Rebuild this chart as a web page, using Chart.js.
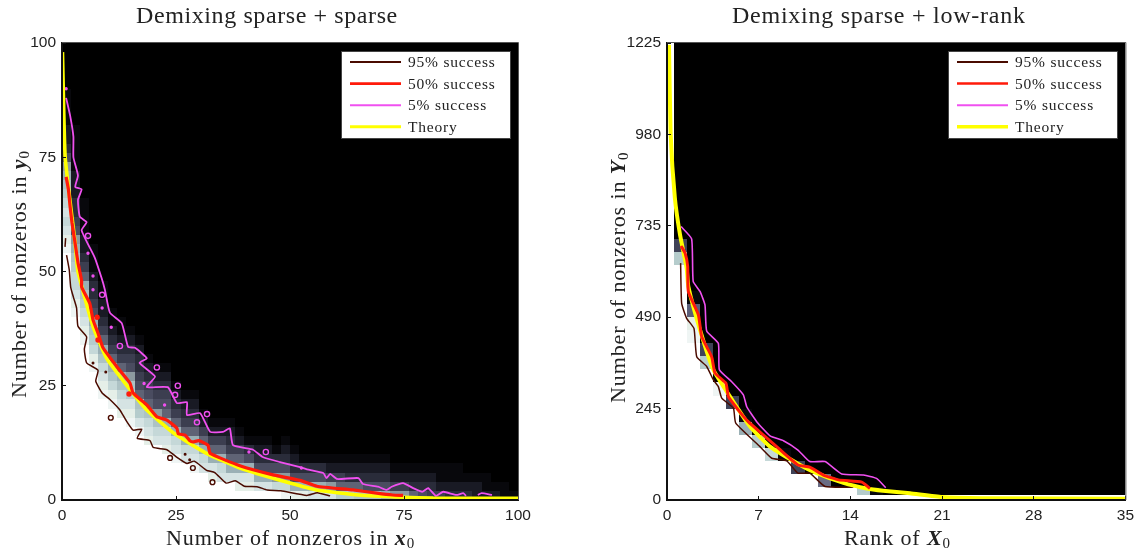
<!DOCTYPE html>
<html>
<head>
<meta charset="utf-8">
<script src="https://cdn.jsdelivr.net/npm/chart.js@4"></script>
<style>
  html, body { margin: 0; background: #fff; overflow: hidden; }
  canvas { position: absolute; top: 0; }
  #chartLeft { left: 0; }
  #chartRight { left: 570px; }
</style>
</head>
<body>
<canvas id="chartLeft" width="570" height="554" style="width:570px;height:554px"></canvas>
<canvas id="chartRight" width="574" height="554" style="width:574px;height:554px"></canvas>
<script>
// tick labels
const leftTicks = [0, 25, 50, 75, 100];
const rightXTicks = [0, 7, 14, 21, 28, 35];
const rightYTicks = [0, 245, 490, 735, 980, 1225];
const legendLabels = ['95% success', '50% success', '5% success', 'Theory'];

// heatmap, column by column from the bottom: white rows, then shade codes, black above
const leftWhite = [27,20,17,14,11,10,9,8,7,6,6,5,4,4,3,3,2,2,2,1,1,1,1,1,0,0,0,0,0,0,0,0,0,0,0,0,0,0,0,0,0,0,0,0,0,0,0,0,0,0];
const leftBand = ['edcbcba98753221111','edcbba987543322211111','edcba98643221111','edba9854332111','edcb986432211',
  'edb98643211','dcb98643211','edca9754321','eca96543321','dcb9654321','cb9754321','dcb8654321','ecb864321','cb864321',
  'ecb864321','cb86421','dc86421','cb86421','c864321','dc86421','dc8531','c85321','c85321','b7531','eb75321','d85321',
  'd8531','c8531','c8531','c7421','a6421','a6321','96321','95321','95321','85321','7421','7421','6321','5321','4321',
  '4211','3211','3211','321','221','211','21','11','1'];
const rightWhite = [36,18,12,10,8,7,5,4,3,3,2,2,1,1,1,0,0];
const rightBand = ['','ag','edh1','ag','e0','g','81','a','b','1','g','','i','','','a','1'];
const heatShades = {'0':'#000000','1':'#08080c','2':'#191a24','3':'#2a2c3a','4':'#3c3e50','5':'#4a4c60','6':'#5f6375',
  '7':'#8d9aa0','8':'#9ab0b5','9':'#adc2c4','a':'#b5cccc','b':'#c5d8d8','c':'#d5e3e3','d':'#e5efe8','e':'#eff5f4','f':'#ffffff',
  'g':'#3f4257','h':'#5c5e78','i':'#6a6c84'};

// left panel curves, [x, y]
const leftBrown = [[0.8,57.3],[0.66,55.4],[null,null],[1,53.6],[1.6,50.3],[1.9,46.6],[2.5,44.4],[3.2,42],[3.5,38],[5.4,35.7],[4.9,33],[5.4,30],
  [7.9,28.4],[7.4,26],[8.8,23.4],[10.5,22],[12.7,19.7],[14,17.5],[15.6,15.3],[17.5,15.5],[16.5,13.5],[19.3,13],[20,11.5],[23,11],[25,9.5],[27.4,8],
  [29,8.5],[31.7,6.5],[33.5,6],[36,3.7],[38,4.2],[40,3],[42.8,2.9],[45,2.2],[48,2],[53.7,1],[56,1.6],[58.8,0.9]];
const leftRed = [[0.9,70.7],[1.4,68],[1.8,64],[2.2,60.6],[2.9,56],[3.5,52],[4.3,48],[4.3,46.6],[6.1,43],[6.8,39.4],[7.9,36.5],[9,33.3],[12,29.2],
  [14.9,25.6],[15.6,23.4],[18.6,20.8],[20.8,18.2],[23,17.5],[25.2,15.7],[25.5,14.5],[27,14.2],[28,13],[28.7,12.7],[30,13],[32,12],[32.5,10.2],
  [39,7.5],[46.3,5.5],[52.2,4.3],[55.9,3],[63.8,2.2],[69,1.5],[72.5,1.1],[74.8,1]];
const leftMagenta = [[0.9,88],[1.8,84],[2.5,79.5],[2.5,75],[3.5,71],[2.9,68.5],[4.3,68],[3.5,65.7],[3.9,62],[5.4,60.8],[4.3,59],[7.2,53],[8.7,48.5],
  [9.4,46],[10.5,41],[13.1,38.7],[14.5,33.5],[16,33.3],[18.6,31],[17,30],[20.4,27],[18.6,24.7],[23.2,24.7],[25.2,21.2],[27.4,21.4],[27.4,18.6],
  [30.3,19],[32.5,14.9],[35.3,14.9],[36.8,15.7],[37.5,12],[41.9,11],[44,9.4],[47.8,8.3],[52.2,7.2],[53.7,6.7],[57.3,5.9],[58,4.8],[58.8,5.7],[60.3,4.6],
  [65,4.8],[66,3.5],[69.3,2.9],[71.2,2.2],[72.3,2.9],[74.8,3.7],[77,2.6],[79,1.8],[80.3,2.6],[82,0.9],[83.6,1.8],[86.5,1.1],[88,1.5],[88.6,0.9],
  [null,null],[91.2,1.1],[92,1.5],[94.3,1.1]];
const leftTheory = [[0.1,98],[0.7,75],[2.9,56],[3.5,50],[6.8,38],[9.8,31],[14.5,24.7],[18.6,19.7],[24.4,14.7],[31.7,10.2],[39,7],[50,3.7],[55.8,2.2],[65,1.1],[74.8,0.6],[81.4,0.4],[100,0.35]];
// small closed contours
const leftMagentaLoops = [[5.7,57.8],[8.8,44.9],[12.7,33.7],[20.8,29],[25.4,25],[24.8,23],[29.6,17],[31.8,18.8],[44.7,10.5]];
const leftMagentaDots = [[0.9,90],[5.7,54],[6.8,49],[6.8,46],[8.8,42],[18,25.5],[22.5,20.8],[41,10.5],[52.5,7],[10.8,37.8]];
const leftRedDots = [[7.7,40],[7.9,35],[14.7,23.2]];
const leftBrownLoops = [[10.7,18],[23.7,9.2],[28.7,7],[33,3.9]];
const leftBrownDots = [[6.8,30],[9.6,28],[27,10],[28,8.8]];

// right panel curves
const rightBrown = [[1.04,635],[1.12,527],[1.5,487],[2.06,460],[2.27,384],[3.03,358],[3.54,322],[3.92,304],[4.18,273],[5.07,246],[5.25,206],[7.1,143],[8,112],[9.14,105],[10,72],[10.9,72],[12.07,36],[14.23,34]];
const rightRed = [[1.07,681],[1.38,662],[1.58,626],[1.63,559],[2.4,496],[2.65,438],[3.41,384],[3.67,340],[4.5,313],[4.69,277],[5.45,241],[6.2,210],[7.5,170],[8.5,139],[10,94],[10.9,88],[11.94,67],[13.1,54],[14.87,48],[15.5,31]];
const rightMagenta = [[1.07,733],[1.88,700],[2,586],[2.52,559],[2.9,523],[3.03,453],[3.92,420],[4,349],[4.94,317],[5.83,282],[6.09,250],[6.85,210],[7.87,172],[8.89,159],[10,134],[10.9,103],[12.07,103],[13.34,70],[15,67],[16,58],[16.7,33]];
const rightTheory = [[0.15,1220],[0.28,980],[0.6,810],[1,710],[1.5,622],[1.63,572],[2.52,456],[3.54,349],[4.81,277],[6.34,197],[7.87,143],[10.16,94],[11.43,72],[13.47,46],[15.25,31],[16.5,25],[18.56,18],[21,8],[24,5],[35,3.5]];

const toPoints = (pairs) => pairs.map((p) => ({ x: p[0], y: p[1] }));

function curve(label, pairs, color, width, order) {
  return { label: label, data: toPoints(pairs), showLine: true, borderColor: color, borderWidth: width,
    pointRadius: 0, tension: 0.15, spanGaps: false, order: order };
}
function dots(pairs, color, radius, filled, order) {
  return { data: toPoints(pairs), showLine: false, pointRadius: radius, pointBorderColor: color, pointBorderWidth: 1.4,
    pointBackgroundColor: filled ? color : 'rgba(0,0,0,0)', order: order };
}

const SERIF = '"Liberation Serif"';

// writes a run of text whose pieces use different fonts
function drawRun(ctx, pieces, x, y, spacing) {
  ctx.letterSpacing = spacing + 'px';
  ctx.textAlign = 'left';
  ctx.textBaseline = 'alphabetic';
  pieces.forEach((p) => {
    ctx.font = p[1];
    ctx.fillText(p[0], x, y + (p[2] || 0));
    x += ctx.measureText(p[0]).width;
  });
  ctx.letterSpacing = '0px';
}

function panelPlugin(cfg) {
  return {
    id: 'panel' + cfg.id,
    beforeDatasetsDraw(chart) {
      const ctx = chart.ctx, area = chart.chartArea, sx = chart.scales.x, sy = chart.scales.y;
      ctx.save();
      ctx.beginPath();
      ctx.rect(area.left, area.top, area.width, area.height);
      ctx.clip();
      ctx.fillStyle = '#000';
      ctx.fillRect(area.left, area.top, area.width, area.height);
      const rect = (x0, x1, y0, y1, color) => {
        const l = Math.round(sx.getPixelForValue(x0)), r = Math.round(sx.getPixelForValue(x1));
        const t = Math.round(sy.getPixelForValue(y1)), b = Math.round(sy.getPixelForValue(y0));
        ctx.fillStyle = color;
        ctx.fillRect(l, t, r - l, b - t);
      };
      cfg.white.forEach((count, c) => {
        const x0 = cfg.xStart + c * cfg.cellW, x1 = x0 + cfg.cellW;
        if (count > 0) rect(x0, x1, 0, count * cfg.cellH, '#ffffff');
        const band = cfg.band[c];
        for (let i = 0; i < band.length; i++) {
          const row = count + i;
          rect(x0, x1, row * cfg.cellH, (row + 1) * cfg.cellH, heatShades[band[i]]);
        }
      });
      if (cfg.floor) rect(0, cfg.xMax, 0, cfg.floor, '#ffffff');
      ctx.restore();
    },
    afterDraw(chart) {
      const ctx = chart.ctx, area = chart.chartArea;
      ctx.save();
      // thin frame on the top and right
      ctx.strokeStyle = '#555';
      ctx.lineWidth = 1;
      ctx.beginPath();
      ctx.moveTo(area.left, area.top - 0.5);
      ctx.lineTo(area.right + 0.5, area.top - 0.5);
      ctx.lineTo(area.right + 0.5, area.bottom);
      ctx.stroke();

      // legend
      const box = cfg.legendBox;
      ctx.fillStyle = '#fff';
      ctx.fillRect(box[0], box[1], box[2], box[3]);
      ctx.strokeStyle = '#444';
      ctx.strokeRect(box[0] + 0.5, box[1] + 0.5, box[2] - 1, box[3] - 1);
      const curves = chart.data.datasets.filter((d) => d.label);
      curves.forEach((d, i) => {
        const y = box[1] + 11 + i * 21.6;
        ctx.strokeStyle = d.borderColor;
        ctx.lineWidth = Math.max(2, d.borderWidth - 0.5);
        ctx.beginPath();
        ctx.moveTo(box[0] + 9, y);
        ctx.lineTo(box[0] + 60, y);
        ctx.stroke();
        ctx.fillStyle = '#222';
        drawRun(ctx, [[d.label, '15.5px ' + SERIF]], box[0] + 67, y + 5, 0.8);
      });

      // title and axis labels
      ctx.fillStyle = '#222';
      drawRun(ctx, [[cfg.title, '24px ' + SERIF]], cfg.titleX, 23, cfg.titleSpacing);
      drawRun(ctx, cfg.xLabel, cfg.xLabelX, 545, 0.9);
      ctx.translate(cfg.yLabelX, cfg.yLabelY);
      ctx.rotate(-Math.PI / 2);
      drawRun(ctx, cfg.yLabel, 0, 0, 0.9);
      ctx.restore();
    }
  };
}

function axisLabel(text, symbol) {
  return [[text, '22px ' + SERIF], [symbol, 'italic bold 22px ' + SERIF], ['0', '15px ' + SERIF, 3]];
}

function makeChart(id, cfg) {
  new Chart(document.getElementById(id), {
    type: 'scatter',
    data: { datasets: cfg.datasets },
    plugins: [panelPlugin(cfg)],
    options: {
      responsive: false,
      animation: false,
      layout: { padding: { left: cfg.left, right: cfg.right, top: 43, bottom: 0 } },
      plugins: { legend: { display: false }, tooltip: { enabled: false } },
      scales: {
        x: {
          type: 'linear', min: 0, max: cfg.xMax,
          afterBuildTicks: (s) => { s.ticks = cfg.xTicks.map((v) => ({ value: v })); },
          afterFit: (s) => { s.height = 54; },
          ticks: { color: '#222', font: { family: 'Liberation Sans', size: 15.5 }, padding: 10, maxRotation: 0, autoSkip: false, callback: (v) => String(v) },
          grid: { drawOnChartArea: false, tickLength: -4, tickColor: '#111', tickWidth: 1, z: 1 },
          border: { color: '#111', width: 2, z: 2 }
        },
        y: {
          type: 'linear', min: 0, max: cfg.yMax,
          afterBuildTicks: (s) => { s.ticks = cfg.yTicks.map((v) => ({ value: v })); },
          afterFit: (s) => { s.width = cfg.yWidth; },
          ticks: { color: '#222', font: { family: 'Liberation Sans', size: 15.5 }, padding: 10, autoSkip: false, callback: (v) => String(v) },
          grid: { drawOnChartArea: false, tickLength: -4, tickColor: '#111', tickWidth: 1, z: 1 },
          border: { color: '#111', width: 2, z: 2 }
        }
      }
    }
  });
}

makeChart('chartLeft', {
  id: 'Left', xMax: 100, yMax: 100, xTicks: leftTicks, yTicks: leftTicks,
  left: 0, right: 52, yWidth: 62,
  white: leftWhite, band: leftBand, xStart: 0, cellW: 2, cellH: 2, floor: 0,
  legendBox: [341, 51, 170, 88],
  title: 'Demixing sparse + sparse', titleX: 136, titleSpacing: 0.6,
  xLabel: axisLabel('Number of nonzeros in ', 'x'), xLabelX: 166,
  yLabel: axisLabel('Number of nonzeros in ', 'y'), yLabelX: 26, yLabelY: 398,
  datasets: [
    curve(legendLabels[0], leftBrown, '#4a0b00', 1.5, 8),
    curve(legendLabels[1], leftRed, '#ff1a0a', 3.2, 4),
    curve(legendLabels[2], leftMagenta, '#f050f0', 1.8, 7),
    curve(legendLabels[3], leftTheory, '#ffff00', 3.6, 5),
    dots(leftMagentaLoops, '#f050f0', 2.6, false, 7),
    dots(leftMagentaDots, '#f050f0', 1, true, 7),
    dots(leftRedDots, '#ff1a0a', 2, true, 4),
    dots(leftBrownLoops, '#4a0b00', 2.4, false, 8),
    dots(leftBrownDots, '#4a0b00', 0.8, true, 8)
  ]
});

makeChart('chartRight', {
  id: 'Right', xMax: 35, yMax: 1225, xTicks: rightXTicks, yTicks: rightYTicks,
  left: 0, right: 0, yWidth: 97,
  white: rightWhite, band: rightBand, xStart: -0.5, cellW: 1, cellH: 35, floor: 14,
  legendBox: [378, 51, 170, 88],
  title: 'Demixing sparse + low-rank', titleX: 162, titleSpacing: 0.75,
  xLabel: axisLabel('Rank of ', 'X'), xLabelX: 274,
  yLabel: axisLabel('Number of nonzeros in ', 'Y'), yLabelX: 55, yLabelY: 403,
  datasets: [
    curve(legendLabels[0], rightBrown, '#4a0b00', 1.5, 8),
    curve(legendLabels[1], rightRed, '#ff1a0a', 3, 4),
    curve(legendLabels[2], rightMagenta, '#f050f0', 1.6, 7),
    curve(legendLabels[3], rightTheory, '#ffff00', 4, 5)
  ]
});
</script>
</body>
</html>
